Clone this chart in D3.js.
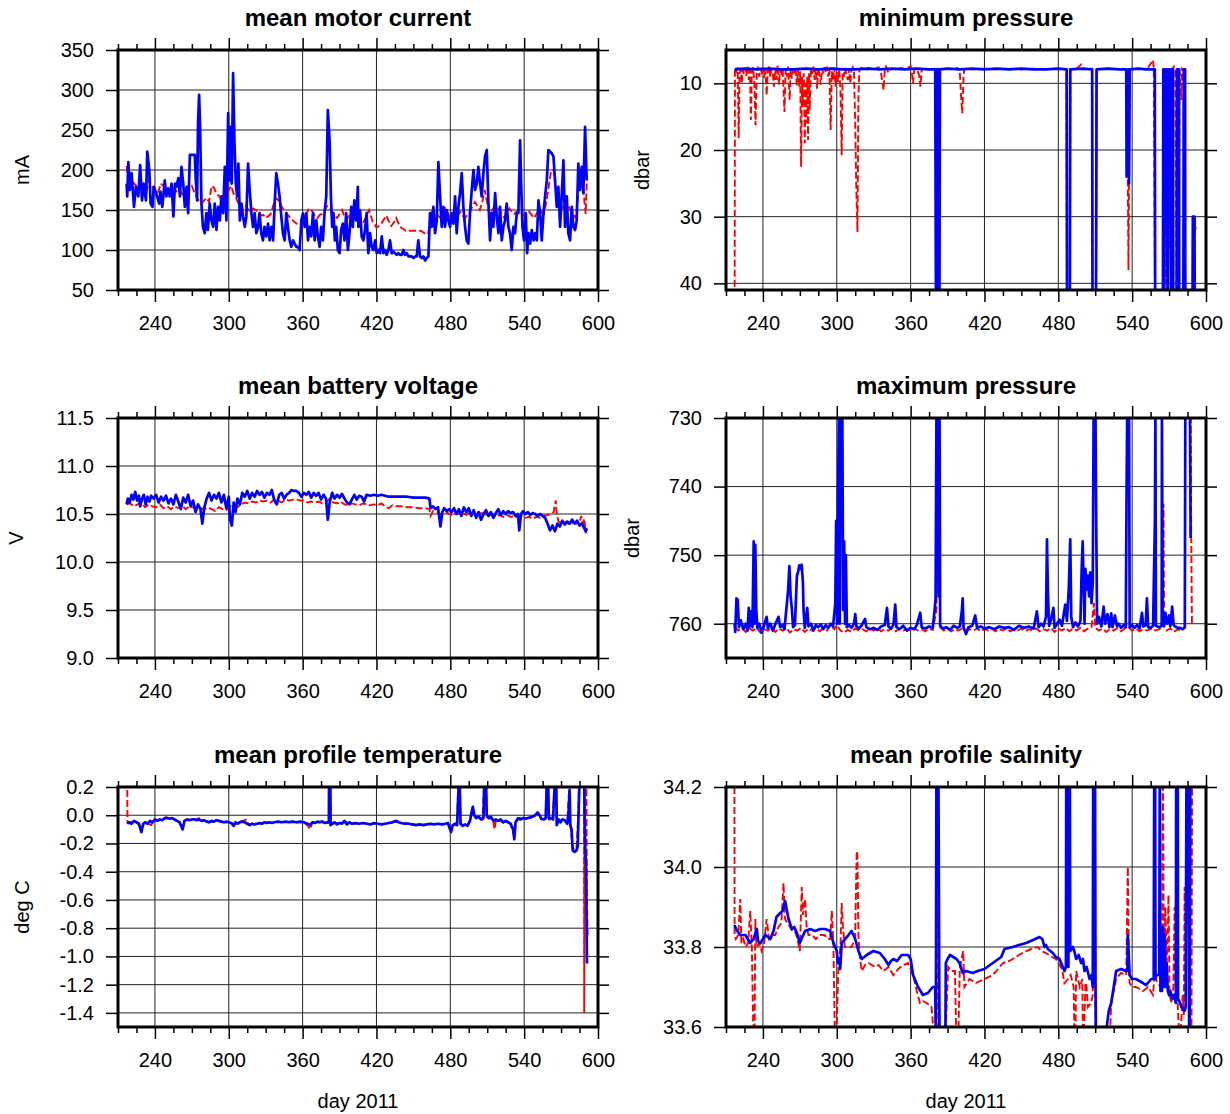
<!DOCTYPE html>
<html>
<head>
<meta charset="utf-8">
<script src="https://cdn.jsdelivr.net/npm/d3@7"></script>
<style>
  body { margin: 0; background: #fff; }
  svg { display: block; font-family: 'Liberation Sans', Arial, Helvetica, sans-serif; }
</style>
</head>
<body>
<script>
// x axis (day of 2011)
const dayDomain = [210, 600]
const dayMajor = [240, 300, 360, 420, 480, 540, 600]
const dayMinor = [210, 225, 255, 270, 285, 315, 330, 345, 375, 390, 405, 435, 450, 465, 495, 510, 525, 555, 570, 585]

// y tick labels per panel
const motorTicks = [50, 100, 150, 200, 250, 300, 350]
const minPTicks = [10, 20, 30, 40]
const voltTicks = [9.0, 9.5, 10.0, 10.5, 11.0, 11.5]
const maxPTicks = [730, 740, 750, 760]
const tempTicks = [0.2, 0.0, -0.2, -0.4, -0.6, -0.8, -1.0, -1.2, -1.4]
const salTicks = [33.6, 33.8, 34.0, 34.2]

// series: [day, value]
const motorBlue = [[217,183],[217.5,167],[218.4,210],[219.5,175],[221,196],[223,154],[224.5,179],[226.5,167],[228,206],[229.5,162],[230.8,183],[232.7,162],[233.8,223],[235.4,200],[236.5,158],[238,154],[239,179],[241,171],[243.5,158],[244.5,173],[246,154],[248,187],[249.3,167],[250.7,177],[252,167],[253.5,183],[255,142],[256.3,183],[257.6,179],[259,190],[260.3,167],[261.6,204],[263,183],[264.3,154],[265.7,179],[267,146],[268.4,219],[270.5,219],[272.4,219],[273.2,187],[274.3,162],[275,258],[275.9,294],[276.7,254],[277.8,158],[279,129],[280.5,121],[281.8,146],[283,125],[284.5,158],[285.9,137],[287.3,129],[288.6,158],[290,125],[291.3,154],[292.7,137],[294,167],[295.4,146],[296.8,204],[298.1,137],[299.5,271],[300.3,187],[301.4,254],[302.4,183],[303.5,321],[304.6,237],[305.7,183],[306.8,167],[307.8,208],[309,137],[310.3,158],[311.6,142],[313,129],[314.3,142],[315.7,208],[317,175],[318.4,146],[319.7,129],[321,146],[322.4,121],[323.8,129],[325,146],[326.4,121],[327.8,112],[329,129],[330.5,117],[331.9,133],[333.2,112],[334.6,129],[336,112],[337.3,158],[338.6,196],[340,183],[341.3,167],[342.7,142],[344,121],[345.4,112],[346.8,146],[348,129],[349.5,112],[350.8,104],[352.2,112],[353.5,108],[354.9,104],[356.2,104],[357.6,100],[359,137],[360.3,146],[361.7,129],[363,146],[364.4,112],[365.7,129],[367,117],[368.4,146],[369.8,112],[371.1,137],[372.4,117],[373.8,104],[375.1,129],[376.5,112],[377.8,146],[379.2,167],[380.5,275],[381.9,237],[383,167],[384,129],[385.1,146],[386.2,112],[387.3,129],[388.6,100],[390,96],[391.3,125],[392.7,133],[394,112],[395.4,146],[396.8,100],[398.1,121],[399.5,154],[400.8,129],[402,162],[403.5,137],[404.9,179],[405.3,129],[406.7,150],[408,117],[409.4,112],[410.7,125],[412,146],[413.4,96],[414.8,121],[416.1,104],[417.5,100],[418.9,112],[420.2,96],[421.6,100],[422.9,96],[424.3,117],[425.6,96],[427,100],[428.3,94],[429.7,100],[431,112],[432.4,96],[433.7,98],[435.1,96],[436.5,94],[437.8,96],[439.2,94],[440.5,94],[441.9,100],[443.2,94],[444.6,96],[446,92],[447.3,92],[448.7,92],[450,90],[451.4,92],[452.7,92],[454,112],[455.4,92],[456.8,90],[458.1,92],[459.5,87],[460.8,90],[462.2,92],[463.5,146],[464.9,129],[466.2,154],[467.6,121],[469,137],[470.3,210],[471.7,167],[473,129],[474.4,154],[475.7,129],[477.1,150],[478.4,137],[479.8,129],[481.2,146],[482.5,133],[483.9,167],[485.2,121],[486.6,154],[487.9,171],[489.3,196],[490.6,154],[492,129],[493.3,112],[494.7,108],[496,146],[497.4,175],[498.8,200],[500.1,175],[501.5,183],[502.8,204],[504.2,183],[505.5,167],[506.9,196],[508.2,217],[509.6,225],[510.9,162],[512.3,112],[513.6,146],[515,129],[516.4,171],[517.7,142],[519.1,121],[520.4,154],[521.8,112],[523.1,129],[524.5,137],[525.8,158],[527.2,129],[528.5,121],[529.9,100],[531.3,129],[532.6,121],[534,146],[535.3,146],[536.7,237],[537.5,187],[538.6,129],[539.9,112],[541.3,146],[542.4,96],[543.5,121],[544.9,108],[546.2,125],[547.6,112],[548.9,121],[550.3,112],[551.6,162],[553,146],[554.3,112],[555.7,146],[557,167],[558.4,187],[559.7,225],[561.1,223],[562.4,221],[563.8,217],[565.1,187],[566.5,154],[567.8,179],[569.2,129],[570.5,167],[571.9,212],[573.2,129],[574.6,167],[575.9,121],[577.3,112],[578.7,154],[580,129],[581.4,125],[582.7,137],[584,208],[585.4,175],[586.8,204],[588.1,171],[589.5,254],[590.8,187]]

const motorRed = [[217,205],[218,190],[220,183],[222,185],[225,180],[228,176],[230,178],[233,172],[235,187],[237,180],[240,175],[242,170],[245,183],[248,178],[250,172],[253,176],[255,180],[258,172],[260,175],[263,168],[265,170],[268,176],[270,180],[272,172],[275,163],[278,158],[280,162],[282,165],[284,160],[286,180],[288,178],[290,170],[292,168],[294,162],[296,160],[298,168],[300,175],[302,180],[304,170],[306,165],[308,158],[310,150],[312,154],[314,155],[316,150],[318,148],[320,152],[322,150],[324,146],[326,143],[328,144],[330,140],[332,142],[334,145],[336,155],[338,165],[340,163],[341,160],[343,154],[345,150],[348,144],[350,140],[352,137],[355,133],[358,133],[360,137],[362,140],[364,148],[365,152],[367,150],[368,148],[370,143],[372,140],[374,144],[376,145],[378,150],[380,155],[382,152],[384,148],[386,143],[388,140],[390,145],[392,150],[394,142],[396,138],[398,144],[400,148],[402,145],[404,142],[406,138],[408,132],[410,136],[411,140],[413,147],[414,150],[416,140],[417,135],[419,131],[420,128],[422,130],[424,133],[426,138],[428,143],[430,136],[432,130],[434,134],[436,140],[438,133],[440,128],[442,126],[444,124],[448,124],[452,124],[456,124],[458,122],[460,120],[462,120],[463,130],[464,145],[466,150],[468,148],[470,143],[472,140],[474,147],[476,152],[478,146],[480,140],[482,137],[484,135],[486,142],[488,148],[490,143],[492,140],[494,144],[496,148],[498,155],[500,160],[502,155],[504,150],[506,160],[508,175],[510,158],[512,145],[514,150],[516,155],[518,152],[520,150],[522,145],[524,140],[526,146],[528,152],[530,148],[532,145],[534,148],[536,150],[538,146],[540,143],[542,146],[544,148],[546,144],[548,140],[550,145],[552,150],[554,148],[556,145],[558,160],[560,180],[562,200],[564,200],[565,185],[567,160],[568,155],[570,150],[572,156],[574,162],[576,155],[578,148],[580,144],[582,140],[584,170],[585,200],[587,190],[588,180],[589,160],[590,145],[591,190]]

const minPBlue = [[217,7.9],[225,7.8],[235,7.9],[245,7.8],[255,7.9],[265,7.9],[275,7.8],[285,7.9],[295,7.8],[305,7.9],[315,7.9],[325,7.8],[335,7.9],[345,7.8],[355,7.9],[365,7.8],[375,7.9],[380,7.9],[380.6,45],[381.2,7.9],[381.6,45],[382.2,7.9],[382.6,45],[383.4,45],[383.8,7.9],[390,7.8],[400,7.9],[410,7.8],[420,7.9],[430,7.8],[440,7.9],[450,7.8],[460,7.9],[470,7.9],[480,7.8],[486.8,7.9],[487.1,45],[489.4,45],[489.7,7.9],[500,7.8],[507.5,7.9],[507.8,45],[510.6,45],[510.9,24],[511.1,7.9],[520,7.8],[530,7.9],[535.2,7.9],[535.5,24],[536,8],[536.5,22],[537,7.9],[537.5,25],[538,7.9],[545,7.8],[552,7.9],[558.4,7.9],[558.7,45],[565,45],[565.3,7.9],[566,45],[566.6,7.9],[567.3,22],[568,7.9],[568.8,45],[569.4,7.9],[570.2,30],[570.8,7.9],[571.6,45],[572.2,7.9],[573.2,7.9],[573.4,45],[576.1,45],[576.4,7.9],[578,7.9],[578.3,45],[581.6,45],[581.9,7.9],[583,7.9],[583.2,45],[589,45],[589.3,30],[590.6,30],[590.9,45]]

const minPRed = [[217,45],[217.3,7.8],[218.5,8.2],[219.5,7.6],[220.3,18.2],[221,8.5],[222,7.9],[222.8,10],[223.5,8],[224.5,8.6],[225.5,7.7],[226.5,8.9],[227.5,7.5],[228.5,9.5],[229.5,8],[230.2,15.5],[231,8.3],[232,7.6],[233,9.8],[234,16.3],[235,8.4],[236,7.5],[237,9],[238,7.7],[239,8.3],[240,7.6],[241,9.2],[242,7.8],[243,11.8],[244,8],[245,7.5],[246,9],[247,7.8],[248,8.5],[249,10.5],[250,7.8],[251,9.5],[252,7.3],[253,10.2],[254,7.8],[255,8.8],[256,7.6],[257.5,14.3],[258.5,7.8],[259.5,9],[260.5,7.5],[261.7,12.5],[262.5,8],[263.5,9.3],[264.5,7.7],[265.5,8.5],[266.5,7.6],[267.5,10.3],[268.5,8],[269.5,10.6],[270.3,8.2],[271,22.5],[271.8,9],[272.5,13.5],[273.2,8.5],[274,19],[274.6,10],[275.3,16],[276,9],[276.7,18.5],[277.4,8.5],[278,14],[279,7.8],[280,8.6],[281,7.5],[282,9.5],[283,7.8],[284,10.8],[285,7.6],[286,8.8],[287,10.2],[288,7.8],[289,8.5],[290,7.6],[291,8.3],[292,7.5],[293,9],[294,7.8],[295,17],[296,8.2],[297,9.5],[298,7.6],[299,10.5],[300,8.3],[301,9.8],[302,7.9],[303,11],[304,20.8],[304.8,8.4],[305.8,9],[306.8,7.7],[308,8.8],[309,9.5],[310,7.8],[311,10],[312,8],[313,7.6],[314,8.3],[315,16],[315.8,25],[316.8,32.3],[317.6,12],[318.4,8],[320,7.7],[323,8],[326,7.7],[330,7.9],[334,7.6],[336,8.5],[337,9.8],[338,11],[339,8],[340,7.5],[342,8.4],[344,7.8],[348,7.9],[352,7.7],[356,7.9],[360,7.4],[361,8.5],[362,10],[363,7.8],[365,7.9],[367,8.8],[368,10.5],[369,7.9],[372,7.8],[376,7.9],[380.8,7.8],[381.2,45],[383.2,45],[383.6,7.8],[386,7.9],[390,7.8],[394,7.9],[398,7.7],[400,8.3],[401,12],[402,14.5],[403,9],[403.5,8],[406,7.8],[410,7.9],[420,7.8],[430,7.9],[440,7.8],[450,7.9],[460,7.8],[470,7.9],[480,7.8],[486.6,7.9],[487,45],[489.4,45],[489.8,7.9],[495,7.8],[498.5,7.2],[500,7.9],[507.4,7.8],[507.8,45],[510.6,45],[511,7.9],[520,7.8],[530,7.9],[535,7.8],[536,12],[537,38],[537.6,20],[538.2,7.9],[545,7.8],[552,7.9],[557,6.5],[557.6,7.8],[558.6,45],[564.8,45],[565.4,30],[566,45],[566.5,20],[567,8],[567.5,40],[568.2,7.8],[569,22],[569.6,7.8],[570.2,35],[571,8],[572,12],[572.8,7.8],[574,7.5],[575,8],[576.2,45],[578,45],[578.5,7.6],[580,12.5],[580.5,7.8],[582,8],[583.3,45],[590.8,45],[591,30],[591.5,32]]

const voltBlue = [[217,10.60],[218,10.66],[219.5,10.62],[221,10.70],[222.5,10.65],[224,10.73],[225.5,10.64],[227,10.69],[228,10.58],[229.5,10.66],[231,10.70],[232.5,10.60],[234,10.68],[235.5,10.63],[237,10.69],[239,10.66],[241,10.70],[243,10.62],[245,10.68],[247,10.64],[249,10.69],[251,10.61],[253,10.66],[255,10.60],[257,10.70],[259,10.63],[261,10.55],[263,10.67],[265,10.62],[267,10.70],[269,10.58],[271,10.64],[273,10.52],[275,10.60],[277,10.55],[278.5,10.40],[280,10.56],[282,10.66],[284,10.72],[286,10.64],[288,10.70],[290,10.66],[292,10.72],[294,10.62],[296,10.70],[298,10.56],[300,10.68],[301,10.45],[302.5,10.38],[304,10.62],[305.5,10.52],[307,10.66],[309,10.60],[311,10.72],[313,10.68],[315,10.74],[317,10.66],[319,10.72],[321,10.68],[323,10.74],[325,10.70],[327,10.73],[329,10.67],[331,10.72],[333,10.70],[335,10.75],[337,10.64],[339,10.60],[341,10.70],[343,10.72],[345,10.66],[347,10.70],[349,10.72],[351,10.75],[353,10.74],[355,10.74],[357,10.72],[359,10.68],[361,10.72],[363,10.70],[365,10.73],[367,10.67],[369,10.72],[371,10.69],[373,10.72],[375,10.65],[377,10.70],[379,10.66],[380.5,10.44],[382,10.62],[384,10.72],[386,10.66],[388,10.70],[390,10.67],[392,10.71],[394,10.66],[396,10.62],[398,10.60],[400,10.65],[402,10.70],[404,10.65],[406,10.69],[408,10.68],[410,10.63],[412,10.70],[415,10.69],[418,10.70],[421,10.69],[424,10.70],[427,10.69],[430,10.68],[433,10.68],[436,10.68],[440,10.68],[445,10.68],[450,10.67],[455,10.67],[460,10.67],[463,10.66],[464,10.56],[466,10.58],[468,10.55],[470,10.57],[472,10.37],[473.5,10.52],[475,10.56],[477,10.53],[479,10.55],[481,10.52],[483,10.56],[485,10.50],[487,10.55],[489,10.48],[491,10.57],[493,10.52],[495,10.56],[497,10.48],[499,10.54],[501,10.46],[503,10.52],[505,10.44],[507,10.50],[509,10.54],[511,10.48],[513,10.52],[515,10.46],[517,10.51],[519,10.55],[521,10.49],[523,10.53],[525,10.50],[527,10.53],[529,10.51],[531,10.52],[533,10.48],[535,10.50],[536,10.33],[537.5,10.50],[539,10.53],[541,10.50],[543,10.52],[545,10.49],[547,10.51],[549,10.50],[551,10.48],[553,10.50],[555,10.48],[557,10.46],[559,10.40],[561,10.33],[563,10.38],[565,10.32],[567,10.40],[569,10.37],[571,10.43],[573,10.39],[575,10.42],[577,10.40],[579,10.44],[581,10.40],[583,10.43],[585,10.38],[587,10.40],[588.5,10.36],[590,10.32],[591,10.35]]

const voltRed = [[217,10.60],[220,10.61],[223,10.58],[226,10.60],[229,10.62],[232,10.57],[235,10.60],[238,10.58],[241,10.57],[244,10.60],[247,10.56],[250,10.58],[253,10.55],[256,10.58],[259,10.56],[262,10.59],[265,10.55],[268,10.58],[271,10.57],[274,10.54],[277,10.56],[280,10.55],[283,10.57],[286,10.55],[289,10.53],[292,10.57],[295,10.55],[298,10.54],[301,10.58],[304,10.60],[307,10.57],[310,10.60],[313,10.62],[316,10.61],[319,10.63],[322,10.62],[325,10.64],[328,10.63],[331,10.64],[334,10.62],[337,10.65],[340,10.64],[343,10.62],[346,10.65],[349,10.64],[352,10.65],[355,10.65],[358,10.64],[361,10.64],[364,10.62],[367,10.63],[370,10.62],[373,10.63],[376,10.61],[379,10.62],[382,10.66],[385,10.62],[388,10.61],[391,10.63],[394,10.60],[397,10.59],[400,10.61],[403,10.60],[406,10.59],[409,10.61],[412,10.60],[415,10.59],[418,10.60],[421,10.59],[424,10.61],[427,10.58],[430,10.56],[433,10.59],[436,10.58],[440,10.58],[445,10.57],[450,10.57],[455,10.56],[460,10.56],[463,10.55],[464,10.48],[466,10.53],[469,10.52],[472,10.50],[475,10.52],[478,10.51],[481,10.49],[484,10.52],[487,10.50],[490,10.51],[493,10.49],[496,10.52],[499,10.50],[502,10.48],[505,10.51],[508,10.50],[511,10.48],[514,10.50],[517,10.47],[520,10.49],[523,10.47],[526,10.49],[529,10.47],[532,10.48],[535,10.46],[538,10.48],[541,10.46],[544,10.47],[547,10.45],[550,10.47],[553,10.46],[556,10.48],[559,10.49],[562,10.50],[564,10.52],[565,10.60],[565.7,10.64],[566.5,10.50],[568,10.42],[571,10.40],[574,10.42],[577,10.39],[580,10.41],[583,10.40],[585,10.42],[586.5,10.48],[587.5,10.40],[589,10.45],[590,10.30],[591,10.36]]

const maxPBlue = [[217,760],[217.5,761.2],[218.5,756.3],[219.5,756.5],[220.5,760.5],[222,759.5],[224,760.8],[226,760],[227.5,761],[228.5,757.7],[229.5,760.4],[230.5,758.2],[231.5,760.5],[232.5,748],[233.2,760],[233.8,748.5],[234.6,758],[235.5,760.6],[237,760],[239,761.3],[241,760.2],[243,759],[244,760.6],[246,760],[248,761],[250,760.1],[252.7,759],[254,760.5],[256,760.2],[257.5,760.8],[259.5,757],[260.5,755],[261.5,751.6],[262.5,756],[263.6,758],[264.5,760.5],[266,760.2],[267.6,753],[268.5,752.5],[269.5,751.5],[270.5,752],[271.5,751.4],[272.5,754],[273,758],[274,760.6],[276,757.7],[277,760.4],[279,760],[281,761],[283,760.2],[285,760.5],[287,760.1],[289,760.8],[291,760.2],[293,760.6],[295,760],[297,760.4],[298.8,757],[299.5,745],[300.3,760],[301,742],[301.7,729],[302.4,760],[303.1,729],[303.8,745],[304.5,729],[305.2,758],[306,748],[306.7,760],[307.4,750],[308.2,760.5],[310,760.2],[312,760.6],[314,760],[315,758.6],[316,760.4],[318,760.7],[320,760.3],[323,759.3],[324,760.5],[327,760.8],[330,760.6],[333,760.9],[336,760.4],[339,760.2],[340.8,757.7],[342,760.4],[344,760.7],[346,760.2],[347.5,757.2],[348.5,760.5],[351,760.8],[354,760.3],[357,761],[360,760.6],[363,760.8],[365,760.2],[367.8,758.4],[369,760.5],[372,760.7],[375,760.4],[378,760.6],[379.5,758],[380.3,756.3],[381,729],[382,729],[382.7,756],[383.5,729],[384,760.3],[386,760.7],[389,760.5],[392,760.9],[395,760.3],[398,760.6],[400,760.4],[401.7,758],[402.3,756.3],[403,760.5],[405,761.5],[407,760.5],[410,760.3],[412.5,758.8],[414,760.6],[417,760.4],[420,760.7],[424,760.5],[428,760.8],[432,760.4],[436,760.6],[440,760.5],[444,760.9],[448,760.3],[452,760.6],[456,760.4],[460,760.7],[462.6,758.2],[464,760.5],[466,760],[468,760.4],[470,759],[470.8,747.7],[471.5,755],[472.5,760.3],[474,759.5],[476,757.7],[477,760.6],[479,760],[481,759.4],[483,760.3],[484.5,758.5],[485.7,757.2],[487,759.6],[488.5,755],[489.7,747.7],[490.5,759],[492,760.5],[494,759.8],[496,760.4],[498,759.6],[499,752],[499.8,748],[500.6,754],[501.3,760],[502,752],[503,755],[504,753],[505,756],[506,752.5],[507,757],[508,754],[508.7,729],[509.5,729],[510.2,729],[510.8,745],[511.5,760],[513,759],[515,760.4],[516.8,757.5],[518,760],[520,758.6],[521.5,760.5],[523,758.5],[524,760.5],[526,758.8],[527.6,760.3],[529,760],[531,760.6],[533,760.2],[534.8,760.5],[535.5,740],[536,729],[536.8,734],[537.5,729],[538,760.5],[540,760.2],[542,760.6],[544,760.2],[546,760.7],[548,758.4],[549,760.4],[551,760.2],[552,756.3],[553,760.5],[555,760.6],[557,760.3],[558.5,745],[558.9,729],[559.3,760.3],[562,760.5],[564,760.3],[564.2,729],[564.8,760],[566,760.3],[567,758.4],[568.5,760],[570,758.8],[571,760.4],[572.5,757.5],[573.7,760.2],[575,760.4],[577,760.6],[579,760.6],[581,760.8],[582.8,760.5],[583.2,729],[584,729],[585,729],[586,729],[587,729],[587.5,747.5]]

const maxPRed = [[217,760.5],[220,761],[223,760.6],[226,761.2],[229,760.7],[232,761],[235,760.6],[238,761.3],[241,760.8],[244,761],[247,760.6],[250,761.2],[253,760.7],[256,761],[259,760.6],[262,761.3],[265,760.8],[268,761],[271,760.6],[274,761.2],[277,760.7],[280,761],[283,760.6],[286,761.1],[289,760.7],[292,761],[295,760.2],[298,760.8],[300,760.2],[303,761],[306,761.3],[309,760.9],[312,761.2],[315,760.7],[318,761],[321,760.8],[324,761.1],[327,760.7],[330,761],[333,760.6],[336,761.1],[339,760.8],[342,761],[345,760.6],[348,761.1],[351,760.7],[354,761],[357,760.8],[360,761],[363,760.7],[366,761],[369,760.8],[372,761.1],[375,760.7],[378,760.9],[380,759],[381,758],[382,737],[383.5,737],[384,760.5],[387,761],[390,760.7],[393,761.1],[396,760.8],[399,761],[402,760.7],[405,761.1],[408,760.8],[411,761],[414,760.7],[417,761.1],[420,760.8],[423,761],[426,760.7],[429,761.1],[432,760.8],[435,761],[438,760.7],[441,761.1],[444,760.8],[447,761],[450,760.7],[453,761.1],[456,760.8],[459,761],[462,760.7],[465,761.1],[468,760.8],[471,761],[474,760.6],[477,761.2],[480,760.7],[483,761],[486,760.6],[489,761.1],[492,760.7],[495,761],[498,760.6],[501,761.1],[504,760.7],[507,760.5],[509,757],[510,760.6],[513,761],[516,760.7],[519,761.2],[522,760.8],[525,761],[528,760.6],[531,761.1],[534,760.7],[537,760.5],[540,761],[543,760.7],[546,761.1],[549,760.8],[552,761],[556,760.7],[559,761],[562,760.8],[565,760.5],[565.5,742.5],[566,760.5],[568,761],[571,760.7],[574,761.2],[577,760.8],[580,761],[582.8,760.6],[583,729],[587.5,729],[588,747.5],[588.6,760]]

const tempBlue = [[217.5,-0.06],[219,-0.05],[221,-0.06],[223,-0.04],[225,-0.05],[227,-0.06],[229,-0.12],[230.5,-0.06],[232,-0.05],[234,-0.06],[236,-0.04],[238,-0.05],[240,-0.03],[242,-0.04],[244,-0.03],[246,-0.035],[248,-0.02],[250,-0.02],[252,-0.025],[254,-0.02],[256,-0.03],[258,-0.04],[260,-0.05],[262.5,-0.10],[264,-0.04],[266,-0.03],[268,-0.035],[270,-0.03],[272,-0.03],[274,-0.035],[276,-0.03],[278,-0.04],[280,-0.035],[282,-0.045],[284,-0.05],[286,-0.04],[288,-0.045],[290,-0.035],[292,-0.04],[294,-0.045],[296,-0.05],[298,-0.045],[300,-0.05],[302,-0.055],[304,-0.075],[305.5,-0.05],[307,-0.06],[309,-0.05],[311,-0.045],[313,-0.05],[315,-0.06],[317,-0.07],[319,-0.06],[321,-0.065],[323,-0.06],[325,-0.055],[327,-0.06],[329,-0.05],[331,-0.055],[333,-0.05],[335,-0.055],[337,-0.05],[340,-0.045],[343,-0.05],[346,-0.045],[349,-0.05],[352,-0.045],[355,-0.05],[358,-0.045],[361,-0.05],[364,-0.06],[366,-0.07],[368,-0.05],[370,-0.055],[372,-0.045],[374,-0.05],[376,-0.045],[378,-0.055],[380,-0.05],[381.3,-0.05],[381.5,0.25],[382.5,0.25],[382.7,-0.07],[384,-0.06],[386,-0.05],[388,-0.065],[390,-0.055],[392,-0.06],[394,-0.04],[396,-0.065],[398,-0.05],[400,-0.06],[403,-0.055],[406,-0.06],[409,-0.055],[412,-0.06],[415,-0.065],[418,-0.055],[421,-0.06],[424,-0.065],[427,-0.06],[430,-0.055],[433,-0.05],[436,-0.04],[438,-0.05],[440,-0.055],[443,-0.06],[446,-0.06],[449,-0.065],[452,-0.07],[455,-0.065],[458,-0.07],[461,-0.065],[464,-0.06],[467,-0.065],[470,-0.06],[473,-0.065],[476,-0.06],[478,-0.055],[480.6,-0.12],[482,-0.07],[484,-0.06],[485.5,-0.07],[486.3,0.1],[487,0.25],[487.6,0.25],[488.3,-0.06],[490,-0.075],[492,-0.065],[494,-0.075],[496,-0.04],[497.5,0.03],[498.3,0.06],[499.5,0.0],[501,-0.02],[503,-0.01],[505,-0.03],[507,-0.02],[507.6,0.25],[509,0.25],[509.6,0.0],[511,-0.02],[513,-0.01],[515,-0.04],[517,-0.03],[519,-0.04],[521,-0.03],[523,-0.05],[525,-0.04],[527,-0.05],[529,-0.06],[531,-0.1],[532,-0.17],[533,-0.05],[535,-0.02],[537,-0.03],[539,-0.02],[541,-0.025],[543,-0.02],[545,-0.015],[547,-0.01],[549,0.0],[551,0.02],[552.5,0.0],[554,-0.025],[556,-0.03],[557.5,-0.02],[558.5,0.25],[559.5,0.25],[560,-0.02],[562,-0.02],[563.5,-0.03],[565,0.25],[566,0.25],[566.5,-0.07],[568,-0.03],[569.5,-0.05],[571,-0.03],[573,-0.035],[575,-0.06],[576,0.0],[576.9,0.18],[577.5,-0.07],[578.5,-0.1],[579.5,-0.25],[581,-0.26],[582.5,-0.25],[583.5,-0.22],[584.5,0.1],[585,0.25],[587,0.25],[588.8,0.25],[589.5,-0.2],[590.3,-0.35],[591,-1.05]]

const tempRed = [[217.5,0.25],[217.7,-0.05],[220,-0.05],[223,-0.04],[226,-0.055],[229,-0.1],[231,-0.06],[234,-0.06],[237,-0.07],[238,-0.05],[240,-0.03],[243,-0.035],[246,-0.03],[249,-0.015],[252,-0.02],[255,-0.025],[258,-0.04],[261,-0.06],[262.5,-0.09],[264,-0.04],[267,-0.03],[270,-0.025],[273,-0.03],[276,-0.02],[279,-0.04],[282,-0.04],[285,-0.05],[288,-0.045],[291,-0.035],[294,-0.045],[297,-0.05],[300,-0.05],[303,-0.06],[306,-0.055],[309,-0.045],[312,-0.04],[314,-0.03],[316,-0.065],[319,-0.06],[322,-0.065],[325,-0.055],[328,-0.06],[331,-0.05],[334,-0.055],[337,-0.05],[340,-0.045],[345,-0.05],[350,-0.045],[355,-0.05],[360,-0.05],[364,-0.07],[366,-0.1],[368,-0.05],[372,-0.05],[376,-0.045],[380,-0.055],[381.4,-0.05],[381.6,0.25],[382.4,0.25],[382.8,-0.06],[386,-0.055],[390,-0.06],[394,-0.045],[398,-0.055],[402,-0.06],[406,-0.06],[410,-0.055],[415,-0.065],[420,-0.06],[425,-0.065],[430,-0.06],[435,-0.045],[440,-0.055],[445,-0.06],[450,-0.065],[455,-0.07],[460,-0.065],[465,-0.065],[470,-0.06],[475,-0.065],[478,-0.055],[480.6,-0.1],[482,-0.07],[485.5,-0.07],[486.5,0.25],[487.7,0.25],[488.4,-0.06],[491,-0.07],[494,-0.07],[496,-0.03],[498,0.04],[500,-0.01],[503,-0.02],[506,-0.03],[507.7,0.25],[509,0.25],[509.6,-0.01],[512,-0.02],[515,-0.05],[516,-0.1],[517,-0.04],[520,-0.04],[523,-0.05],[526,-0.045],[529,-0.06],[532,-0.15],[533,-0.05],[536,-0.02],[540,-0.025],[544,-0.02],[548,-0.005],[551,0.01],[554,-0.03],[557.5,-0.02],[558.3,0.25],[559.3,0.25],[560,-0.03],[563,-0.03],[565,0.25],[566,0.25],[566.5,-0.06],[569,-0.04],[572,-0.03],[575,-0.05],[576.5,0.17],[577.5,-0.06],[579.5,-0.24],[582.5,-0.24],[584,0.0],[584.6,0.25],[588.6,0.25],[588.8,-1.4],[589,0.25],[590.6,0.25],[591,-0.6],[591.6,-0.85]]

const salBlue = [[216.8,33.855],[219,33.84],[221.6,33.83],[225.7,33.83],[229.7,33.81],[232.4,33.82],[235,33.845],[236,33.815],[238,33.81],[242,33.83],[246,33.82],[248.6,33.84],[251,33.875],[254,33.885],[256,33.89],[258,33.915],[260.8,33.87],[263.5,33.845],[265.5,33.85],[267.6,33.835],[270,33.81],[272,33.825],[274.3,33.84],[278.4,33.845],[282.4,33.84],[286.5,33.845],[290.5,33.845],[294.6,33.84],[297.3,33.81],[300,33.79],[301,33.76],[302,33.77],[302.8,33.745],[304,33.81],[306.8,33.82],[309.5,33.83],[312,33.84],[315,33.82],[317.6,33.79],[320.3,33.77],[324.3,33.78],[329.7,33.79],[335,33.785],[339,33.77],[342,33.755],[344,33.765],[346,33.77],[349,33.765],[352.7,33.78],[358,33.78],[360,33.77],[362,33.73],[366,33.70],[370,33.68],[374,33.685],[378,33.70],[380,33.70],[380.5,33.55],[381,34.3],[382.5,34.3],[383.5,33.55],[388.2,33.55],[388.6,33.76],[390,33.77],[392,33.78],[394.6,33.775],[397.3,33.77],[399.7,33.76],[402.4,33.735],[405,33.74],[410.5,33.735],[414.6,33.74],[420,33.745],[426.8,33.76],[433.6,33.775],[436.3,33.795],[443,33.80],[448,33.805],[453.9,33.81],[460,33.818],[464.7,33.825],[467,33.82],[468.8,33.8],[470,33.805],[471.5,33.795],[473.5,33.79],[475.5,33.785],[478,33.775],[481,33.77],[483,33.755],[485,33.74],[486.2,33.75],[486.5,34.3],[487.5,34.3],[488.2,33.75],[488.8,34.3],[489.3,34.3],[489.7,33.79],[491.8,33.8],[493,33.79],[494.5,33.77],[496.5,33.78],[498.6,33.76],[500,33.77],[501.3,33.74],[503,33.75],[505.4,33.72],[507,33.73],[508,33.70],[508.4,34.3],[509.8,34.3],[510.2,33.72],[510.6,33.55],[518.9,33.59],[521,33.64],[523,33.66],[525,33.7],[527,33.74],[531,33.745],[535,33.74],[536.2,33.74],[536.5,33.83],[537.2,33.78],[537.9,33.73],[540,33.72],[543,33.72],[546,33.715],[548.7,33.71],[551,33.705],[552.8,33.71],[555.5,33.72],[557.5,33.72],[558,34.3],[558.6,34.3],[559,33.72],[559.6,33.73],[562,33.73],[562.5,34.3],[563,33.69],[563.8,33.83],[564.2,33.69],[565,33.85],[565.5,33.70],[566.5,33.83],[567,33.7],[568,33.76],[569,33.69],[570,33.68],[571,33.69],[572.5,33.67],[574,33.68],[575.5,33.66],[575.8,34.3],[577,34.3],[577.3,33.67],[579,33.66],[580,33.65],[581.5,33.645],[582.6,33.64],[583.5,33.65],[584.2,34.3],[585.5,34.3],[586.3,33.6],[586.7,33.55],[587.3,34.3],[588,34.3]]

const salRed = [[216.8,34.3],[217,33.83],[218,33.82],[220,33.83],[221.6,33.92],[222.5,33.81],[224,33.82],[226,33.80],[228,33.81],[229.7,33.89],[231,33.80],[232.4,33.55],[233.2,33.55],[233.8,33.87],[235,33.80],[237,33.81],[239,33.79],[241,33.81],[243,33.87],[245,33.82],[247,33.83],[250,33.83],[252.7,33.85],[255,33.86],[256.7,33.96],[258,33.87],[260,33.86],[262,33.85],[264,33.84],[266,33.84],[268,33.82],[270,33.79],[271.6,33.95],[272.5,33.88],[273.3,33.90],[274.3,33.92],[275.5,33.85],[277,33.83],[280,33.83],[283,33.82],[286,33.83],[290,33.83],[293,33.82],[294.6,33.82],[296,33.89],[297.3,33.80],[298.6,33.55],[299.5,33.55],[301.4,33.76],[303,33.80],[304,33.91],[305,33.85],[306.5,33.80],[309,33.80],[312,33.80],[314.9,33.82],[316.2,34.04],[316.8,34.03],[317.6,33.83],[318.5,33.78],[320.3,33.74],[323,33.755],[326,33.76],[331,33.75],[334,33.755],[337.8,33.74],[340,33.745],[342,33.75],[346,33.73],[350,33.745],[354,33.755],[358,33.76],[362,33.73],[365,33.69],[367.6,33.66],[370,33.665],[373,33.66],[377,33.65],[379.7,33.55],[381,33.55],[382.4,33.92],[383.2,33.55],[388,33.55],[390.5,33.75],[393,33.74],[396,33.74],[397.3,33.55],[398.6,33.55],[400,33.75],[402.7,33.79],[403.7,33.70],[407.8,33.72],[413,33.71],[420,33.72],[426.8,33.73],[431,33.745],[435,33.76],[440,33.765],[443,33.77],[448,33.78],[454,33.79],[458,33.795],[463.4,33.80],[466,33.79],[470,33.785],[475,33.775],[478,33.77],[481,33.755],[483,33.745],[485,33.71],[487.8,33.72],[490,33.73],[492.5,33.70],[493.2,33.55],[493.8,33.55],[494.5,33.74],[496,33.72],[497.5,33.70],[499.5,33.72],[500,33.55],[500.6,33.55],[502,33.71],[502.7,33.71],[504,33.65],[506.7,33.66],[508,33.68],[508.8,34.3],[509.6,34.3],[510.2,33.6],[510.5,33.5],[521,33.5],[523,33.66],[527,33.72],[531,33.735],[535.2,33.73],[536.5,34.0],[537.2,33.8],[537.9,33.71],[540,33.70],[543,33.70],[546,33.695],[548.7,33.69],[551,33.695],[552.8,33.70],[555,33.69],[556.9,33.68],[558,33.72],[559,33.72],[561,33.71],[563,33.7],[564.5,33.72],[565,34.3],[565.8,33.72],[567,33.90],[568,33.75],[569,33.84],[569.5,33.93],[570.4,33.68],[572,33.66],[573.5,33.70],[574.5,33.90],[575.5,33.68],[577,33.66],[578.5,33.55],[580,33.62],[581,33.68],[582,33.63],[582.6,33.95],[583.5,33.70],[584,34.3],[587.5,34.3],[588.2,33.55],[588.8,34.3],[589,34.3]]

// ---------------- layout ----------------
const W = 1230
const H = 1114
const boxW = 480
const boxH = 240
const colX = [118, 726]
const rowY = [50, 418, 787]

const oneDecimal = d => d.toFixed(1)
const integer = d => String(d)

const panels = [
  { title: 'mean motor current', unit: 'mA', unitX: 22, col: 0, row: 0, domain: [50, 350], ticks: motorTicks, fmt: integer, blue: motorBlue, red: motorRed },
  { title: 'minimum pressure', unit: 'dbar', unitX: 642, col: 1, row: 0, domain: [41, 5], ticks: minPTicks, fmt: integer, blue: minPBlue, red: minPRed },
  { title: 'mean battery voltage', unit: 'V', unitX: 16, col: 0, row: 1, domain: [9, 11.5], ticks: voltTicks, fmt: oneDecimal, blue: voltBlue, red: voltRed },
  { title: 'maximum pressure', unit: 'dbar', unitX: 632, col: 1, row: 1, domain: [765, 730], ticks: maxPTicks, fmt: integer, blue: maxPBlue, red: maxPRed },
  { title: 'mean profile temperature', unit: 'deg C', unitX: 22, col: 0, row: 2, domain: [-1.5, 0.2], ticks: tempTicks, fmt: oneDecimal, blue: tempBlue, red: tempRed, xTitle: 'day 2011' },
  { title: 'mean profile salinity', unit: '', unitX: 0, col: 1, row: 2, domain: [33.6, 34.2], ticks: salTicks, fmt: oneDecimal, blue: salBlue, red: salRed, xTitle: 'day 2011' }
]

const svg = d3.select('body').append('svg')
  .attr('width', W)
  .attr('height', H)

svg.append('rect').attr('width', W).attr('height', H).attr('fill', '#fff')

const x = d3.scaleLinear().domain(dayDomain).range([0, boxW])

function styleAxis (g, withText) {
  g.select('.domain').remove()
  g.selectAll('.tick line').attr('stroke', '#000').attr('stroke-width', 1.5)
  if (withText) {
    g.selectAll('.tick text').attr('fill', '#000').style('font-size', '20px')
  } else {
    g.selectAll('.tick text').remove()
  }
}

panels.forEach((p, i) => {
  const left = colX[p.col]
  const top = rowY[p.row]
  const y = d3.scaleLinear().domain(p.domain).range([boxH, 0])
  const lo = Math.min(p.domain[0], p.domain[1])
  const hi = Math.max(p.domain[0], p.domain[1])

  const g = svg.append('g').attr('transform', `translate(${left},${top})`)

  // grid
  const grid = g.append('g').attr('class', 'grid')
  grid.selectAll('line.vx')
    .data(dayMajor.filter(d => d > dayDomain[0] && d < dayDomain[1]))
    .enter().append('line')
    .attr('x1', d => x(d)).attr('x2', d => x(d))
    .attr('y1', 0).attr('y2', boxH)
    .attr('stroke', '#222').attr('stroke-width', 1)
  grid.selectAll('line.hy')
    .data(p.ticks.filter(d => d > lo + 1e-9 && d < hi - 1e-9))
    .enter().append('line')
    .attr('x1', 0).attr('x2', boxW)
    .attr('y1', d => y(d)).attr('y2', d => y(d))
    .attr('stroke', '#222').attr('stroke-width', 1)

  // series
  const clipId = 'clip' + i
  g.append('clipPath').attr('id', clipId)
    .append('rect').attr('width', boxW).attr('height', boxH)

  const line = d3.line()
    .x(d => x(d[0]))
    .y(d => y(d[1]))

  const series = g.append('g').attr('clip-path', `url(#${clipId})`)
  series.append('path')
    .datum(p.red)
    .attr('d', line)
    .attr('fill', 'none')
    .attr('stroke', '#ff0000')
    .attr('stroke-width', 1.9)
    .attr('stroke-dasharray', '7,3')
  series.append('path')
    .datum(p.blue)
    .attr('d', line)
    .attr('fill', 'none')
    .attr('stroke', '#0000ff')
    .attr('stroke-width', 2.7)
    .attr('stroke-linejoin', 'round')

  // axes: bottom (labelled), top, left (labelled), right
  g.append('g').attr('transform', `translate(0,${boxH})`)
    .call(d3.axisBottom(x).tickValues(dayMajor).tickFormat(d3.format('d')).tickSize(12).tickPadding(14).tickSizeOuter(0))
    .call(a => styleAxis(a, true))
  g.append('g').attr('transform', `translate(0,${boxH})`)
    .call(d3.axisBottom(x).tickValues(dayMinor).tickSize(6).tickSizeOuter(0))
    .call(a => styleAxis(a, false))
  g.append('g')
    .call(d3.axisTop(x).tickValues(dayMajor).tickSize(12).tickSizeOuter(0))
    .call(a => styleAxis(a, false))
  g.append('g')
    .call(d3.axisTop(x).tickValues(dayMinor).tickSize(6).tickSizeOuter(0))
    .call(a => styleAxis(a, false))
  g.append('g')
    .call(d3.axisLeft(y).tickValues(p.ticks).tickFormat(p.fmt).tickSize(12).tickPadding(12).tickSizeOuter(0))
    .call(a => styleAxis(a, true))
  g.append('g').attr('transform', `translate(${boxW},0)`)
    .call(d3.axisRight(y).tickValues(p.ticks).tickSize(11).tickSizeOuter(0))
    .call(a => styleAxis(a, false))

  // frame
  g.append('rect')
    .attr('width', boxW).attr('height', boxH)
    .attr('fill', 'none').attr('stroke', '#000').attr('stroke-width', 3)

  // title
  g.append('text')
    .attr('x', boxW / 2).attr('y', -24)
    .attr('text-anchor', 'middle')
    .style('font-size', '24px').style('font-weight', 'bold')
    .text(p.title)

  // y unit
  if (p.unit) {
    svg.append('text')
      .attr('transform', `translate(${p.unitX},${top + boxH / 2}) rotate(-90)`)
      .attr('text-anchor', 'middle')
      .attr('dy', '0.35em')
      .style('font-size', '20px')
      .text(p.unit)
  }

  // x title, kept just inside the bottom edge
  if (p.xTitle) {
    g.append('text')
      .attr('x', boxW / 2).attr('y', H - top - 6)
      .attr('text-anchor', 'middle')
      .style('font-size', '20px')
      .text(p.xTitle)
  }
})
</script>
</body>
</html>
